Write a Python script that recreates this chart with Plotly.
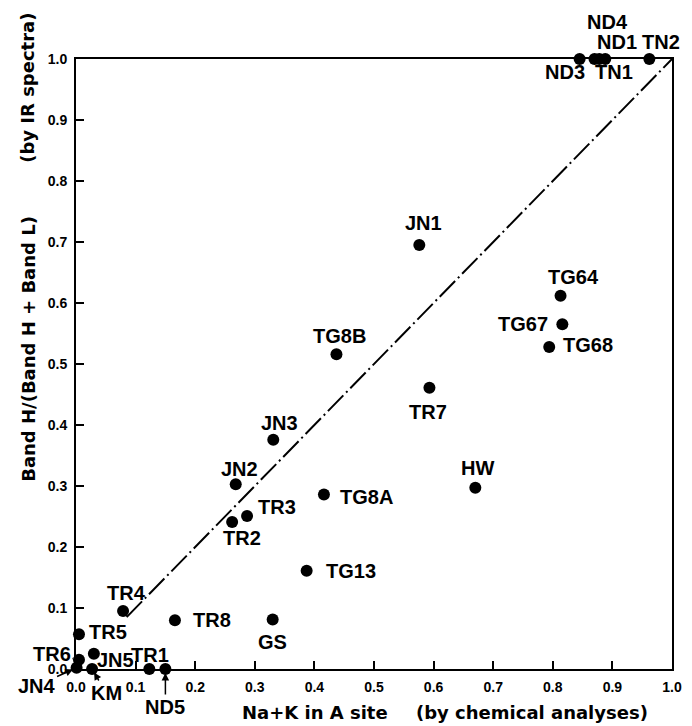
import plotly.graph_objects as go

# ---- data ----
names = ["ND3", "TN1", "ND4", "ND1", "TN2",
         "JN1", "TG64", "TG67", "TG68", "TG8B", "TR7", "JN3", "HW",
         "TG8A", "JN2", "TR3", "TR2", "TG13", "GS", "TR8",
         "TR4", "TR5", "JN5", "TR6", "JN4", "KM", "TR1", "ND5"]
na_k = [0.845, 0.870, 0.878, 0.888, 0.962,
        0.576, 0.813, 0.816, 0.794, 0.437, 0.593, 0.331, 0.670,
        0.416, 0.268, 0.287, 0.262, 0.387, 0.330, 0.166,
        0.079, 0.005, 0.030, 0.005, 0.001, 0.027, 0.123, 0.150]
band_ratio = [1.0, 1.0, 1.0, 1.0, 1.0,
              0.695, 0.612, 0.565, 0.528, 0.516, 0.461, 0.376, 0.297,
              0.286, 0.303, 0.251, 0.241, 0.161, 0.081, 0.080,
              0.095, 0.057, 0.025, 0.015, 0.002, 0.0, 0.0, 0.0]
line_x = [0.085, 1.0]
line_y = [0.085, 1.0]
tick_vals = [i / 10 for i in range(11)]
tick_text = ["0.0", "0.1", "0.2", "0.3", "0.4", "0.5", "0.6", "0.7", "0.8", "0.9", "1.0"]

# ---- label placement (pixel offsets from the dot) ----
label_shift = {
    "ND3": (-15, -13), "TN1": (19, -13), "ND4": (8, 37), "ND1": (12, 17), "TN2": (12, 17),
    "JN1": (4, 22), "TG64": (13, 19), "TG67": (-39, 0), "TG68": (39, 2), "TG8B": (3, 18),
    "TR7": (-1, -24), "JN3": (6, 17), "HW": (2, 20), "TG8A": (43, -2), "JN2": (4, 15),
    "TR3": (30, 9), "TR2": (10, -16), "TG13": (44, 0), "GS": (0, -22), "TR8": (37, 0),
    "TR4": (3, 18), "TR5": (29, 2), "JN5": (22, -6), "TR1": (1, 14),
}
arrow_labels = {  # name: (ax, ay, arrowhead)
    "ND5": (0, 38, 2), "KM": (14, 24, 2), "JN4": (-40, 18, 2), "TR6": (-27, -6, 0),
}

LFONT = dict(family="Liberation Sans", size=20, color="black", weight="bold")
TFONT = dict(family="DejaVu Sans", size=18, color="black", weight="bold")

fig = go.Figure()
fig.add_trace(go.Scatter(x=line_x, y=line_y, mode="lines",
                         line=dict(color="black", width=2, dash="22px,4px,2px,4px"),
                         hoverinfo="skip", showlegend=False, cliponaxis=False))
fig.add_trace(go.Scatter(x=na_k, y=band_ratio, mode="markers",
                         marker=dict(color="black", size=12, line=dict(width=0)),
                         text=names, showlegend=False, cliponaxis=False))

ann = []
for n, x, y in zip(names, na_k, band_ratio):
    if n in label_shift:
        dx, dy = label_shift[n]
        ann.append(dict(x=x, y=y, xref="x", yref="y", text=n, showarrow=False,
                        xshift=dx, yshift=dy, font=LFONT))
    elif n in arrow_labels:
        ax, ay, head = arrow_labels[n]
        ann.append(dict(x=x, y=y, xref="x", yref="y", text=n, showarrow=True,
                        ax=ax, ay=ay, arrowhead=head, arrowsize=1, arrowwidth=1.5,
                        arrowcolor="black", standoff=4 if head else 6, font=LFONT))

# axis titles (two parts each, as in the reference)
ann.append(dict(x=(395 - 76) / 606, y=-(712 - 669) / 610, xref="paper", yref="paper",
                text="Na+K in A site", showarrow=False, xanchor="right", yanchor="middle", font=TFONT))
ann.append(dict(x=(540 - 76) / 606, y=-(712 - 669) / 610, xref="paper", yref="paper",
                text="(by chemical analyses)", showarrow=False, xanchor="center", yanchor="middle", font=TFONT))
ann.append(dict(x=-(76 - 27) / 606, y=(669 - 349) / 610, xref="paper", yref="paper",
                text="Band H/(Band H + Band L)", textangle=-90, showarrow=False,
                xanchor="center", yanchor="middle", font=TFONT))
ann.append(dict(x=-(76 - 27) / 606, y=(669 - 88) / 610, xref="paper", yref="paper",
                text="(by IR spectra)", textangle=-90, showarrow=False,
                xanchor="center", yanchor="middle", font=TFONT))

axis_common = dict(range=[0, 1], showline=True, linecolor="black", linewidth=2, mirror=True,
                   ticks="inside", ticklen=8, tickwidth=2, tickcolor="black",
                   tickvals=tick_vals, ticktext=tick_text, showgrid=False, zeroline=False,
                   tickfont=dict(family="Liberation Sans", size=14, color="black", weight="bold"))

fig.update_layout(width=692, height=726, margin=dict(l=76, r=10, t=59, b=57),
                  paper_bgcolor="white", plot_bgcolor="white",
                  xaxis=dict(**axis_common, ticklabelstandoff=4),
                  yaxis=dict(**axis_common, ticklabelstandoff=4),
                  annotations=ann, showlegend=False)
fig.write_html("out.html", config={"displayModeBar": False},
               post_script="document.body.style.margin='0';document.body.style.overflow='hidden';")
